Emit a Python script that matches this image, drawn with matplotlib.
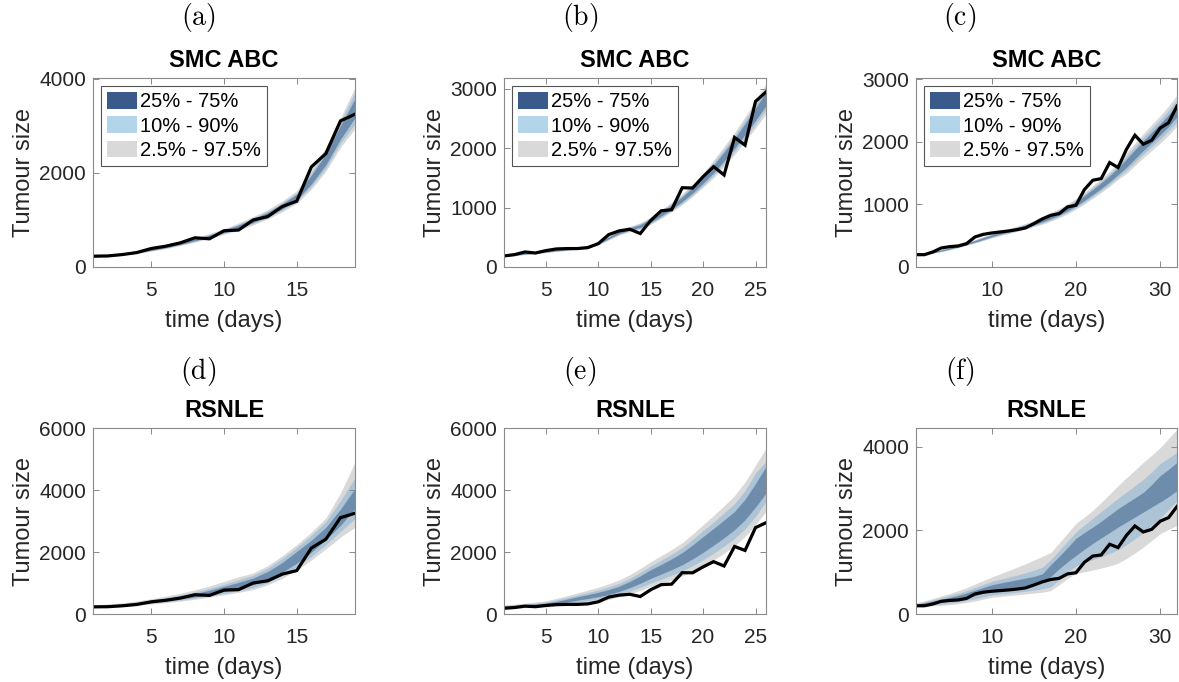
import matplotlib
matplotlib.use("Agg")
import matplotlib.pyplot as plt
from matplotlib.patches import Patch

plt.rcParams['font.family'] = ['Liberation Sans', 'DejaVu Sans']
plt.rcParams['mathtext.fontset'] = 'cm'

# --- observed tumour sizes ---
obs_a = [230, 235, 264, 307, 393, 443, 514, 621, 600, 771, 786, 1000, 1071, 1286, 1400, 2128, 2414, 3107, 3250]
obs_b = [186, 208, 253, 236, 276, 304, 310, 310, 326, 394, 546, 608, 636, 563, 783, 946, 963, 1334, 1329,
         1520, 1689, 1548, 2179, 2050, 2787, 2944]
obs_c = [197, 197, 240, 304, 325, 336, 373, 480, 522, 544, 560, 576, 597, 624, 693, 768, 826, 853, 960, 986,
         1237, 1386, 1413, 1669, 1589, 1882, 2106, 1962, 2026, 2220, 2306, 2571]

# --- SMC ABC predictive quantiles (2.5, 10, 25, 75, 90, 97.5) ---
smc_a = {
    'q025': [207, 225, 250, 285, 336, 391, 455, 529, 607, 695, 783, 896, 1019, 1174, 1356, 1655, 2038, 2545, 2941],
    'q10': [214, 233, 258, 295, 347, 404, 470, 546, 627, 717, 808, 926, 1053, 1213, 1401, 1711, 2107, 2631, 3042],
    'q25': [218, 238, 264, 301, 354, 412, 480, 558, 640, 732, 826, 946, 1075, 1238, 1430, 1767, 2176, 2717, 3177],
    'q75': [232, 252, 280, 319, 376, 438, 510, 592, 680, 778, 894, 1024, 1165, 1342, 1550, 1953, 2405, 3003, 3583],
    'q90': [236, 257, 286, 326, 383, 446, 520, 604, 693, 793, 912, 1044, 1187, 1367, 1579, 2009, 2473, 3089, 3718],
    'q975': [243, 265, 294, 335, 394, 459, 535, 621, 713, 815, 937, 1074, 1221, 1406, 1624, 2065, 2542, 3175, 3819],
}
smc_b = {
    'q025': [177, 191, 209, 223, 242, 260, 279, 298, 321, 372, 456, 539, 595, 635, 718, 819, 929, 1049, 1187, 1343,
             1502, 1693, 1893, 2111, 2339, 2575],
    'q10': [181, 195, 214, 228, 247, 266, 285, 304, 328, 380, 466, 551, 608, 649, 733, 837, 949, 1072, 1213, 1372,
            1543, 1739, 1945, 2169, 2403, 2646],
    'q25': [184, 199, 218, 233, 252, 272, 291, 310, 335, 388, 475, 563, 621, 666, 753, 859, 975, 1100, 1245, 1409,
            1584, 1786, 1997, 2227, 2467, 2717],
    'q75': [196, 211, 232, 247, 268, 288, 309, 330, 355, 412, 505, 597, 659, 714, 807, 921, 1045, 1180, 1335, 1511,
            1716, 1934, 2163, 2413, 2673, 2943],
    'q90': [200, 215, 236, 252, 273, 294, 315, 336, 362, 420, 515, 609, 672, 731, 827, 943, 1071, 1208, 1367, 1548,
            1757, 1981, 2215, 2471, 2737, 3014],
    'q975': [203, 219, 241, 257, 278, 300, 321, 342, 369, 428, 524, 621, 685, 745, 842, 961, 1091, 1231, 1393, 1577,
             1799, 2027, 2267, 2529, 2801, 3085],
}
smc_c = {
    'q025': [186, 200, 219, 244, 274, 307, 344, 381, 423, 465, 502, 535, 567, 605, 646, 682, 732, 787, 851, 924,
             1007, 1098, 1190, 1290, 1400, 1494, 1620, 1746, 1863, 1980, 2106, 2250],
    'q10': [190, 204, 223, 249, 280, 314, 352, 390, 432, 475, 513, 546, 580, 618, 660, 700, 752, 808, 874, 949,
            1034, 1128, 1222, 1325, 1438, 1544, 1674, 1804, 1925, 2046, 2176, 2325],
    'q25': [194, 209, 228, 254, 286, 320, 359, 398, 441, 485, 524, 558, 592, 631, 674, 719, 772, 830, 897, 975,
            1062, 1158, 1255, 1361, 1476, 1594, 1728, 1862, 1987, 2112, 2246, 2400],
    'q75': [206, 221, 242, 270, 304, 340, 381, 422, 469, 515, 556, 592, 628, 670, 716, 771, 828, 890, 963, 1045,
            1139, 1242, 1346, 1459, 1584, 1726, 1872, 2018, 2153, 2288, 2434, 2600],
    'q90': [210, 226, 247, 275, 310, 347, 389, 431, 478, 525, 567, 604, 641, 683, 730, 790, 848, 912, 986, 1071,
            1166, 1272, 1378, 1495, 1622, 1776, 1926, 2076, 2215, 2354, 2504, 2675],
    'q975': [214, 230, 251, 280, 316, 353, 396, 439, 487, 535, 578, 615, 653, 696, 744, 808, 868, 933, 1009, 1096,
             1194, 1302, 1411, 1530, 1660, 1826, 1980, 2134, 2277, 2420, 2574, 2750],
}

# --- RSNLE predictive quantiles ---
rsnle_a = {
    'q025': [210, 225, 248, 280, 320, 365, 415, 475, 545, 620, 700, 785, 940, 1150, 1420, 1740, 2100, 2480, 2800],
    'q10': [222, 238, 263, 298, 342, 392, 448, 512, 585, 668, 755, 850, 1010, 1240, 1520, 1860, 2240, 2660, 3080],
    'q25': [235, 252, 280, 318, 365, 420, 482, 552, 635, 728, 830, 945, 1110, 1350, 1640, 2000, 2400, 2860, 3400],
    'q75': [262, 285, 320, 368, 428, 495, 572, 660, 765, 890, 1020, 1160, 1370, 1660, 2020, 2380, 2800, 3380, 4050],
    'q90': [275, 300, 338, 390, 455, 530, 615, 712, 825, 960, 1105, 1250, 1480, 1790, 2150, 2540, 2980, 3650, 4400],
    'q975': [292, 320, 362, 420, 490, 575, 670, 780, 905, 1055, 1200, 1325, 1560, 1880, 2240, 2640, 3100, 3900, 4900],
}
rsnle_b = {
    'q025': [185, 195, 205, 215, 225, 250, 290, 330, 370, 410, 470, 560, 650, 760, 890, 990, 1100, 1220, 1370, 1540,
             1740, 1960, 2200, 2500, 2880, 3310],
    'q10': [200, 212, 225, 238, 252, 285, 335, 385, 432, 480, 545, 640, 740, 860, 1000, 1120, 1250, 1390, 1560, 1750,
            1960, 2190, 2440, 2750, 3150, 3630],
    'q25': [215, 230, 245, 262, 280, 325, 385, 445, 500, 560, 630, 730, 850, 990, 1150, 1290, 1430, 1590, 1780, 1990,
            2220, 2460, 2720, 3040, 3450, 3900],
    'q75': [255, 278, 300, 325, 350, 410, 480, 555, 625, 700, 790, 900, 1050, 1230, 1430, 1600, 1780, 1980, 2230, 2500,
            2760, 3030, 3310, 3700, 4210, 4760],
    'q90': [270, 295, 322, 352, 385, 455, 530, 610, 690, 775, 875, 990, 1150, 1340, 1550, 1740, 1930, 2140, 2410, 2690,
            2970, 3260, 3560, 3980, 4550, 4920],
    'q975': [290, 318, 350, 385, 425, 505, 590, 680, 770, 865, 975, 1100, 1270, 1470, 1690, 1880, 2080, 2300, 2580,
             2880, 3180, 3490, 3820, 4260, 4800, 5350],
}
rsnle_c = {
    'q025': [175, 185, 195, 205, 222, 245, 275, 310, 355, 400, 420, 440, 460, 480, 500, 520, 560, 700, 850, 970,
             1010, 1050, 1100, 1150, 1220, 1330, 1460, 1600, 1760, 1920, 2020, 2120],
    'q10': [188, 205, 222, 240, 262, 290, 325, 365, 410, 455, 480, 500, 520, 545, 570, 600, 650, 820, 1000, 1150,
            1230, 1300, 1370, 1450, 1540, 1660, 1800, 1950, 2120, 2300, 2500, 2710],
    'q25': [200, 225, 252, 280, 310, 345, 390, 440, 495, 555, 590, 620, 650, 680, 715, 760, 900, 1080, 1250, 1400,
            1550, 1690, 1820, 1950, 2080, 2200, 2320, 2440, 2560, 2680, 2810, 2950],
    'q75': [230, 268, 308, 350, 395, 445, 505, 570, 635, 700, 740, 780, 820, 860, 900, 960, 1180, 1380, 1590, 1810,
            1950, 2080, 2220, 2370, 2520, 2650, 2780, 2910, 3100, 3310, 3460, 3630],
    'q90': [245, 290, 338, 388, 440, 495, 560, 632, 705, 780, 830, 880, 930, 985, 1045, 1120, 1300, 1520, 1740, 1960,
            2130, 2290, 2450, 2610, 2770, 2920, 3070, 3220, 3400, 3600, 3730, 3870],
    'q975': [265, 315, 372, 432, 492, 558, 632, 715, 800, 885, 960, 1040, 1120, 1200, 1290, 1380, 1470, 1700, 1930,
             2170, 2320, 2480, 2670, 2870, 3070, 3260, 3440, 3630, 3800, 3980, 4200, 4420],
}

panel_letters = ['(a)', '(b)', '(c)', '(d)', '(e)', '(f)']
method_titles = ['SMC ABC', 'RSNLE']
legend_labels = ['25% - 75%', '10% - 90%', '2.5% - 97.5%']
y_limits = [(0, 4020), (0, 3180), (0, 3020), (0, 6000), (0, 6000), (0, 4450)]
y_ticks = [[0, 2000, 4000], [0, 1000, 2000, 3000], [0, 1000, 2000, 3000],
           [0, 2000, 4000, 6000], [0, 2000, 4000, 6000], [0, 2000, 4000]]
x_ticks = [[5, 10, 15], [5, 10, 15, 20, 25], [10, 20, 30]]

# colours
c_grey = '#D9D9D9'
c_mid = '#ADC3D6'
c_dark = '#6E8DAD'
sw_dark = '#3A5A8C'
sw_light = '#B3D5EA'

W, H = 1179, 682
fig = plt.figure(figsize=(W / 100, H / 100), dpi=100)

col_left = [93, 504, 916]
col_right = [355, 766, 1177]
row_top = [78, 428]
row_bot = [267, 614]
letter_x = [198, 580, 960]
letter_y = [18, 372]

observed = [obs_a, obs_b, obs_c]
bands = [[smc_a, smc_b, smc_c], [rsnle_a, rsnle_b, rsnle_c]]

for r in range(2):
    for c in range(3):
        k = r * 3 + c
        l, rr = col_left[c], col_right[c]
        t, b = row_top[r], row_bot[r]
        ax = fig.add_axes([l / W, 1 - b / H, (rr - l) / W, (b - t) / H])
        obs = observed[c]
        days = list(range(1, len(obs) + 1))
        q = bands[r][c]
        ax.fill_between(days, q['q025'], q['q975'], color=c_grey, lw=0)
        ax.fill_between(days, q['q10'], q['q90'], color=c_mid, lw=0)
        ax.fill_between(days, q['q25'], q['q75'], color=c_dark, lw=0)
        ax.plot(days, obs, color='black', lw=2.3, solid_joinstyle='miter')

        ax.set_xlim(1, len(obs))
        ax.set_ylim(*y_limits[k])
        ax.set_xticks(x_ticks[c])
        ax.set_yticks(y_ticks[k])
        ax.tick_params(direction='in', top=True, right=True, length=4, width=0.7,
                       labelsize=15, colors='#8a8a8a', labelcolor='#262626')
        ax.tick_params(axis='x', pad=10)
        ax.tick_params(axis='y', pad=5)
        for s in ax.spines.values():
            s.set_color('#8a8a8a')
            s.set_linewidth(0.8)
        ax.set_xlabel('time (days)', fontsize=17, color='#262626', labelpad=7)
        ax.set_ylabel('Tumour size', fontsize=17, color='#262626', labelpad=3)
        ax.set_title(method_titles[r], fontsize=17, fontweight='bold', pad=8)

        if r == 0:
            handles = [Patch(facecolor=sw_dark, edgecolor='none'),
                       Patch(facecolor=sw_light, edgecolor='none'),
                       Patch(facecolor=c_grey, edgecolor='none')]
            leg = ax.legend(handles, legend_labels, loc='upper left', fontsize=14.5,
                            fancybox=False, framealpha=1, edgecolor='#555555',
                            handlelength=1.5, handleheight=0.9, handletextpad=0.15,
                            labelspacing=0.25, borderpad=0.3, borderaxespad=0.4)
            leg.get_frame().set_linewidth(0.8)

        fig.text(letter_x[c] / W, 1 - letter_y[r] / H, r'$\mathrm{' + panel_letters[k] + '}$',
                 fontsize=20, ha='center', va='center')

fig.savefig('out.png', dpi=100)
